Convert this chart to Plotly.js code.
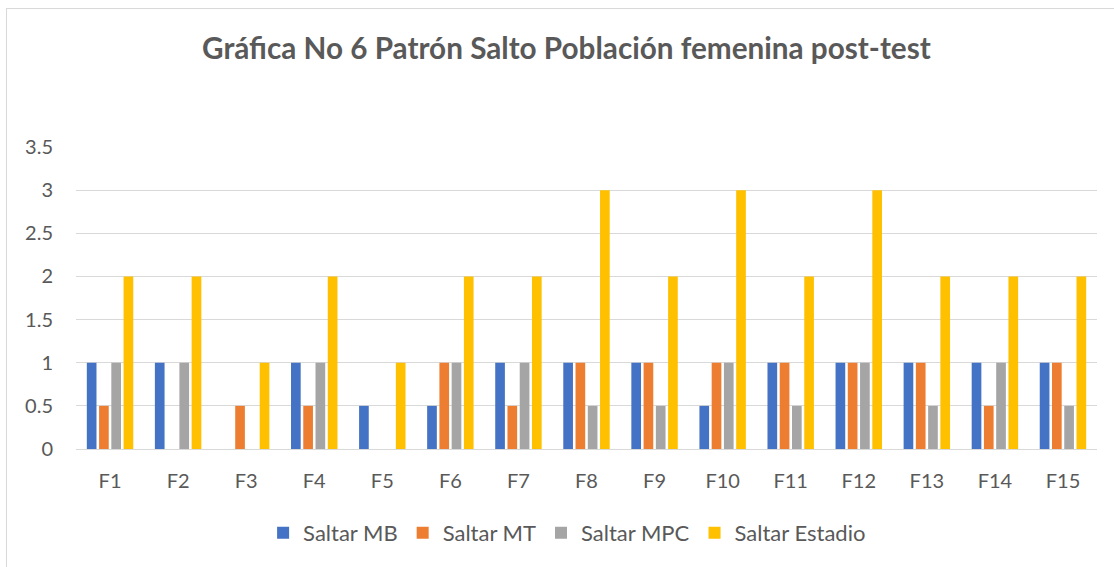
<!DOCTYPE html>
<html><head><meta charset="utf-8">
<script src="https://cdn.plot.ly/plotly-3.0.1.min.js"></script>
<style>
html,body{margin:0;padding:0;background:#fff;}
#frame{position:absolute;left:6px;top:8px;width:1120px;height:600px;border-left:1px solid #d9d9d9;border-top:1px solid #d9d9d9;pointer-events:none;}
#chart{width:1114px;height:567px;}
</style></head><body>
<div id="chart"></div>
<div id="frame"></div>
<script>
const categories = ["F1","F2","F3","F4","F5","F6","F7","F8","F9","F10","F11","F12","F13","F14","F15"];
const saltarMB      = [1,1,0,1,0.5,0.5,1,1,1,0.5,1,1,1,1,1];
const saltarMT      = [0.5,0,0.5,0.5,0,1,0.5,1,1,1,1,1,1,0.5,1];
const saltarMPC     = [1,1,0,1,0,1,1,0.5,0.5,1,0.5,1,0.5,1,0.5];
const saltarEstadio = [2,2,1,2,1,2,2,3,2,3,2,3,2,2,2];
const seriesNames = ["Saltar MB","Saltar MT","Saltar MPC","Saltar Estadio"];
const colors = ["#4472C4","#ED7D31","#A5A5A5","#FFC000"];
const allSeries = [saltarMB, saltarMT, saltarMPC, saltarEstadio];

const traces = allSeries.map((vals,i)=>({
  type:"bar", x:categories, y:vals, name:seriesNames[i],
  marker:{color:colors[i]}, hoverinfo:"x+y+name"
}));

const font = "Lato, 'Open Sans', sans-serif";
const layout = {
  width:1114, height:567,
  margin:{l:76, r:17, t:147, b:118},
  paper_bgcolor:"#fff", plot_bgcolor:"#fff",
  barmode:"group", bargap:0.28, bargroupgap:0.21,
  title:{text:"<b>Gráfica No 6 Patrón Salto Población femenina post-test</b>",
    x:0.5085, xanchor:"center", y:0.915, yanchor:"middle",
    font:{family:font, size:29.7, color:"#595959"}},
  xaxis:{type:"category", showgrid:false, zeroline:false, showline:false,
    ticks:"", tickfont:{family:font, size:20, color:"#595959"}, ticklabelstandoff:18},
  yaxis:{range:[0,3.5], dtick:0.5, tick0:0, showgrid:true, gridcolor:"#d9d9d9", gridwidth:1,
    zeroline:true, zerolinecolor:"#d9d9d9", zerolinewidth:1, showline:false, ticks:"",
    tickfont:{family:font, size:20, color:"#595959"}, ticklabelstandoff:22},
  legend:{orientation:"h", x:0.481, xanchor:"center", y:-0.278, yanchor:"middle",
    font:{family:font, size:22, color:"#595959"}, itemwidth:30, traceorder:"normal"},
  showlegend:true
};
Plotly.newPlot("chart", traces, layout, {displayModeBar:false});
</script>
</body></html>
